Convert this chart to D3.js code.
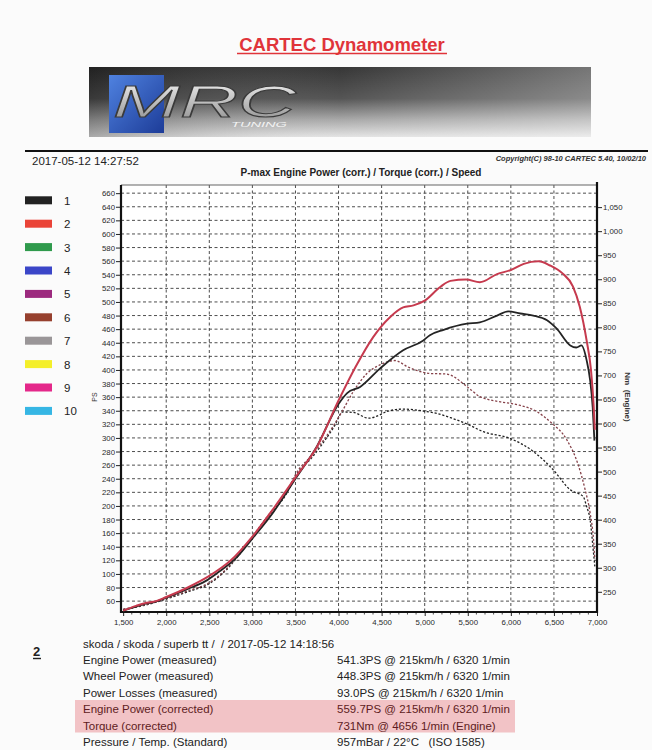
<!DOCTYPE html>
<html>
<head>
<meta charset="utf-8">
<script src="https://cdn.jsdelivr.net/npm/d3@7"></script>
<style>
  html, body { margin: 0; padding: 0; background: #fbfbfb; }
  text { font-family: "Liberation Sans", Arial, sans-serif; }
</style>
</head>
<body>
<div id="chart"></div>
<script>
// run 1 (black) - engine power, PS
const rpmPower1 = [1500, 1650, 1750, 1850, 2000, 2250, 2450, 2600, 2800, 3000, 3250, 3500, 3750, 4000, 4100, 4250, 4480, 4750, 4980, 5060, 5220, 5490, 5640, 5840, 5970, 6110, 6260, 6420, 6530, 6690, 6760, 6820, 6880, 6920, 6950, 6970];
const psPower1 = [46, 52, 56, 58, 65, 78, 89, 102, 122, 152, 192, 240, 288, 350, 366, 375, 402, 429, 443, 451, 459, 468, 470, 480, 486, 483, 480, 473, 461, 436, 433, 436, 414, 385, 345, 296];

// run 2 (red) - engine power corrected, PS
const rpmPower2 = [1500, 1650, 1750, 1850, 2000, 2250, 2500, 2750, 3000, 3250, 3500, 3750, 4000, 4200, 4400, 4600, 4750, 4870, 5000, 5180, 5300, 5480, 5640, 5840, 6000, 6150, 6320, 6450, 6600, 6720, 6800, 6880, 6930, 6960, 6975];
const psPower2 = [46, 53, 57, 59, 66, 80, 97, 120, 155, 197, 242, 287, 355, 405, 448, 478, 492, 495, 502, 522, 531, 533, 529, 541, 547, 556, 559.7, 554, 542, 523, 493, 443, 400, 350, 312];

// run 1 torque, Nm
const rpmTorque1 = [1500, 1750, 2000, 2250, 2500, 2700, 2950, 3200, 3400, 3500, 3700, 3950, 4050, 4170, 4350, 4480, 4560, 4750, 4980, 5140, 5300, 5490, 5680, 5990, 6260, 6490, 6690, 6840, 6880, 6920, 6960, 6975];
const nmTorque1 = [213, 222, 235, 250, 267, 296, 351, 410, 455, 490, 531, 594, 624, 623, 611, 618, 625, 630, 626, 621, 612, 599, 583, 569, 542, 504, 462, 448, 427, 400, 330, 303];

// run 2 torque corrected, Nm
const rpmTorque2 = [1500, 1750, 2000, 2250, 2500, 2700, 2950, 3200, 3400, 3500, 3700, 3950, 4050, 4170, 4330, 4480, 4656, 4800, 4950, 5060, 5250, 5490, 5640, 5760, 5880, 6100, 6300, 6460, 6650, 6780, 6860, 6920, 6960, 6975];
const nmTorque2 = [214, 223, 236, 252, 269, 298, 353, 413, 458, 494, 536, 598, 628, 666, 704, 722, 731, 718, 708, 704, 703, 677, 656, 649, 645, 638, 625, 603, 566, 515, 464, 414, 358, 318];

const rpmTicks = [1500, 2000, 2500, 3000, 3500, 4000, 4500, 5000, 5500, 6000, 6500, 7000];
const psTicks = d3.range(60, 661, 20);
const nmTicks = d3.range(250, 1051, 50);
const legendLabels = ["1", "2", "3", "4", "5", "6", "7", "8", "9", "10"];

const summaryLabels = ["Engine Power (measured)", "Wheel Power (measured)", "Power Losses (measured)",
    "Engine Power (corrected)", "Torque (corrected)", "Pressure / Temp. (Standard)"];
const summaryValues = ["541.3PS @ 215km/h / 6320 1/min", "448.3PS @ 215km/h / 6320 1/min",
    "93.0PS @ 215km/h / 6320 1/min", "559.7PS @ 215km/h / 6320 1/min",
    "731Nm @ 4656 1/min (Engine)", "957mBar / 22°C   (ISO 1585)"];

const legendColors = ["#222222", "#ea4438", "#2f9a4c", "#3b46c8", "#9c2a7e", "#96402e", "#9a9698", "#f4ef2a", "#e4288a", "#36b6e4"];

const width = 652, height = 750;
const svg = d3.select("#chart").append("svg")
    .attr("width", width)
    .attr("height", height);

const defs = svg.append("defs");

// ---- header ----
svg.append("text")
    .attr("x", 342).attr("y", 51)
    .attr("text-anchor", "middle")
    .style("font-size", "18.5px").style("font-weight", "bold")
    .attr("fill", "#e0343a")
    .text("CARTEC Dynamometer");
svg.append("line")
    .attr("x1", 237).attr("x2", 447).attr("y1", 53.5).attr("y2", 53.5)
    .attr("stroke", "#e0343a").attr("stroke-width", 1.6);

// banner
const gV = defs.append("linearGradient").attr("id", "bannerV")
    .attr("x1", 0).attr("y1", 0).attr("x2", 0).attr("y2", 1);
gV.append("stop").attr("offset", "0%").attr("stop-color", "#2c2c2c");
gV.append("stop").attr("offset", "45%").attr("stop-color", "#4c4c4c");
gV.append("stop").attr("offset", "75%").attr("stop-color", "#a4a4a4");
gV.append("stop").attr("offset", "100%").attr("stop-color", "#e2e2e2");
const gH = defs.append("linearGradient").attr("id", "bannerH");
gH.append("stop").attr("offset", "0%").attr("stop-color", "#000").attr("stop-opacity", 0.25);
gH.append("stop").attr("offset", "50%").attr("stop-color", "#fff").attr("stop-opacity", 0.05);
gH.append("stop").attr("offset", "100%").attr("stop-color", "#fff").attr("stop-opacity", 0.35);
const gB = defs.append("linearGradient").attr("id", "blueSq")
    .attr("x1", 0).attr("y1", 0).attr("x2", 1).attr("y2", 1);
gB.append("stop").attr("offset", "0%").attr("stop-color", "#4f82e0");
gB.append("stop").attr("offset", "100%").attr("stop-color", "#1d3c98");
const gT = defs.append("linearGradient").attr("id", "chrome")
    .attr("x1", 0).attr("y1", 0).attr("x2", 0).attr("y2", 1);
gT.append("stop").attr("offset", "0%").attr("stop-color", "#f4f4f4");
gT.append("stop").attr("offset", "100%").attr("stop-color", "#8a8a8a");

svg.append("rect").attr("x", 89).attr("y", 67).attr("width", 502).attr("height", 70)
    .attr("fill", "url(#bannerV)");
svg.append("rect").attr("x", 89).attr("y", 67).attr("width", 502).attr("height", 70)
    .attr("fill", "url(#bannerH)");
svg.append("rect").attr("x", 109).attr("y", 75).attr("width", 55).attr("height", 58)
    .attr("fill", "url(#blueSq)");
svg.append("text")
    .attr("x", 113).attr("y", 117)
    .attr("textLength", 183).attr("lengthAdjust", "spacingAndGlyphs")
    .style("font-size", "44px").style("font-style", "italic")
    .attr("fill", "url(#chrome)").attr("stroke", "#3a3a3a").attr("stroke-width", 1)
    .text("MRC");
svg.append("text")
    .attr("x", 231).attr("y", 127)
    .attr("textLength", 56).attr("lengthAdjust", "spacingAndGlyphs")
    .style("font-size", "8px").style("font-style", "italic")
    .attr("fill", "#f2f2f2")
    .text("TUNING");

svg.append("line")
    .attr("x1", 25).attr("x2", 648).attr("y1", 151).attr("y2", 151)
    .attr("stroke", "#111").attr("stroke-width", 2);
svg.append("text")
    .attr("x", 32).attr("y", 165)
    .style("font-size", "11.5px").attr("fill", "#222")
    .text("2017-05-12 14:27:52");
svg.append("text")
    .attr("x", 646).attr("y", 161).attr("text-anchor", "end")
    .style("font-size", "7.5px").style("font-style", "italic").style("font-weight", "bold")
    .attr("fill", "#333")
    .text("Copyright(C) 98-10 CARTEC 5.40, 10/02/10");
svg.append("text")
    .attr("x", 361).attr("y", 176).attr("text-anchor", "middle")
    .style("font-size", "10px").style("font-weight", "bold").attr("fill", "#222")
    .text("P-max Engine Power (corr.) / Torque (corr.) / Speed");

// ---- chart ----
const plot = { left: 121, right: 597, top: 185, bottom: 612 };

const x = d3.scaleLinear().domain([1475, 7000]).range([plot.left, plot.right]);
const yP = d3.scaleLinear().domain([44, 672]).range([plot.bottom, plot.top]);
const yT = d3.scaleLinear().domain([208, 1096]).range([plot.bottom, plot.top]);

svg.append("rect")
    .attr("x", plot.left).attr("y", plot.top)
    .attr("width", plot.right - plot.left).attr("height", plot.bottom - plot.top)
    .attr("fill", "#fff");

// grid
svg.append("g")
    .selectAll("line")
    .data(psTicks)
    .join("line")
    .attr("x1", plot.left).attr("x2", plot.right)
    .attr("y1", d => yP(d)).attr("y2", d => yP(d))
    .attr("stroke", "#3a3a3a").attr("stroke-width", 0.9).attr("stroke-dasharray", "3,2.5");
svg.append("g")
    .selectAll("line")
    .data(rpmTicks.filter(d => d > 1500 && d < 7000))
    .join("line")
    .attr("x1", d => x(d)).attr("x2", d => x(d))
    .attr("y1", plot.top).attr("y2", plot.bottom)
    .attr("stroke", "#3a3a3a").attr("stroke-width", 0.9).attr("stroke-dasharray", "3,2.5");

// axes
const styleAxis = g => {
    g.select(".domain").remove();
    g.selectAll(".tick line").attr("stroke", "#222");
    g.selectAll(".tick text").attr("fill", "#2a2a2a")
        .style("font-size", "7.8px").style("font-family", "'Liberation Sans', Arial, sans-serif");
};

svg.append("g")
    .attr("transform", `translate(${plot.left},0)`)
    .call(d3.axisLeft(yP).tickValues(psTicks).tickSize(5).tickPadding(1).tickFormat(d3.format("d")))
    .call(styleAxis);

svg.append("g")
    .attr("transform", `translate(${plot.right},0)`)
    .call(d3.axisRight(yT).tickValues(nmTicks).tickSize(5).tickPadding(1).tickFormat(d3.format(",")))
    .call(styleAxis);

svg.append("g")
    .attr("transform", `translate(0,${plot.bottom})`)
    .call(d3.axisBottom(x).tickValues(rpmTicks).tickSize(4).tickPadding(3.5).tickFormat(d3.format(",")))
    .call(styleAxis);

// minor rpm ticks
svg.append("g")
    .selectAll("line")
    .data(d3.range(1600, 7000, 100).filter(d => d % 500 !== 0))
    .join("line")
    .attr("x1", d => x(d)).attr("x2", d => x(d))
    .attr("y1", plot.bottom).attr("y2", plot.bottom + 2.5)
    .attr("stroke", "#222").attr("stroke-width", 0.8);

// frame
svg.append("line").attr("x1", plot.left).attr("x2", plot.right)
    .attr("y1", plot.top).attr("y2", plot.top)
    .attr("stroke", "#666").attr("stroke-width", 1.2);
svg.append("line").attr("x1", plot.left).attr("x2", plot.left)
    .attr("y1", plot.top).attr("y2", plot.bottom + 1)
    .attr("stroke", "#111").attr("stroke-width", 2.2);
svg.append("line").attr("x1", plot.right).attr("x2", plot.right)
    .attr("y1", plot.top - 3).attr("y2", plot.bottom + 1)
    .attr("stroke", "#111").attr("stroke-width", 2.2);
svg.append("line").attr("x1", plot.left).attr("x2", plot.right)
    .attr("y1", plot.bottom).attr("y2", plot.bottom)
    .attr("stroke", "#111").attr("stroke-width", 2.2);

// axis titles
svg.append("text")
    .attr("transform", "translate(97,397) rotate(-90)")
    .attr("text-anchor", "middle")
    .style("font-size", "7px").attr("fill", "#333")
    .text("PS");
svg.append("text")
    .attr("transform", "translate(625,397) rotate(90)")
    .attr("text-anchor", "middle")
    .style("font-size", "8px").style("font-weight", "bold").attr("fill", "#333")
    .attr("xml:space", "preserve")
    .text("Nm  (Engine)");

// curves
const lineP = d3.line().curve(d3.curveMonotoneX).x(d => x(d[0])).y(d => yP(d[1]));
const lineT = d3.line().curve(d3.curveMonotoneX).x(d => x(d[0])).y(d => yT(d[1]));

const series = [
    { pts: d3.zip(rpmTorque1, nmTorque1), line: lineT, color: "#222222", w: 1.3, dash: "2.2,1.8" },
    { pts: d3.zip(rpmTorque2, nmTorque2), line: lineT, color: "#86424a", w: 1.3, dash: "2.2,1.8" },
    { pts: d3.zip(rpmPower1, psPower1), line: lineP, color: "#242424", w: 1.8, dash: null },
    { pts: d3.zip(rpmPower2, psPower2), line: lineP, color: "#c63a4e", w: 2, dash: null }
];

svg.append("g")
    .attr("fill", "none")
    .selectAll("path")
    .data(series)
    .join("path")
    .attr("d", d => d.line(d.pts))
    .attr("stroke", d => d.color)
    .attr("stroke-width", d => d.w)
    .attr("stroke-dasharray", d => d.dash)
    .attr("stroke-linejoin", "round");

// legend
const legend = svg.append("g")
    .selectAll("g")
    .data(legendLabels)
    .join("g")
    .attr("transform", (d, i) => `translate(25,${200.3 + i * 23.4})`);
legend.append("rect")
    .attr("x", 0).attr("y", -4).attr("width", 27).attr("height", 8)
    .attr("fill", (d, i) => legendColors[i]);
legend.append("text")
    .attr("x", 39).attr("y", 4.5)
    .style("font-size", "11.5px").attr("fill", "#222")
    .text(d => d);

// ---- summary table ----
svg.append("rect")
    .attr("x", 75).attr("y", 700).attr("width", 440).attr("height", 32.5)
    .attr("fill", "#f2c3c6");

svg.append("text")
    .attr("x", 33).attr("y", 656)
    .style("font-size", "13px").style("font-weight", "bold").attr("fill", "#222")
    .text("2");
svg.append("line")
    .attr("x1", 33).attr("x2", 41).attr("y1", 658.5).attr("y2", 658.5)
    .attr("stroke", "#222").attr("stroke-width", 1.4);

svg.append("text")
    .attr("x", 83).attr("y", 647.5)
    .style("font-size", "11.5px").attr("fill", "#222")
    .attr("xml:space", "preserve")
    .text("skoda / skoda / superb tt /  / 2017-05-12 14:18:56");

const rows = svg.append("g")
    .selectAll("g")
    .data(d3.zip(summaryLabels, summaryValues))
    .join("g")
    .attr("transform", (d, i) => `translate(0,${663.5 + i * 16.5})`)
    .attr("fill", (d, i) => (i === 3 || i === 4) ? "#5e1c22" : "#222");
rows.append("text")
    .attr("x", 83)
    .style("font-size", "11.5px")
    .text(d => d[0]);
rows.append("text")
    .attr("x", 337)
    .style("font-size", "11.5px")
    .attr("xml:space", "preserve")
    .text(d => d[1]);
</script>
</body>
</html>
